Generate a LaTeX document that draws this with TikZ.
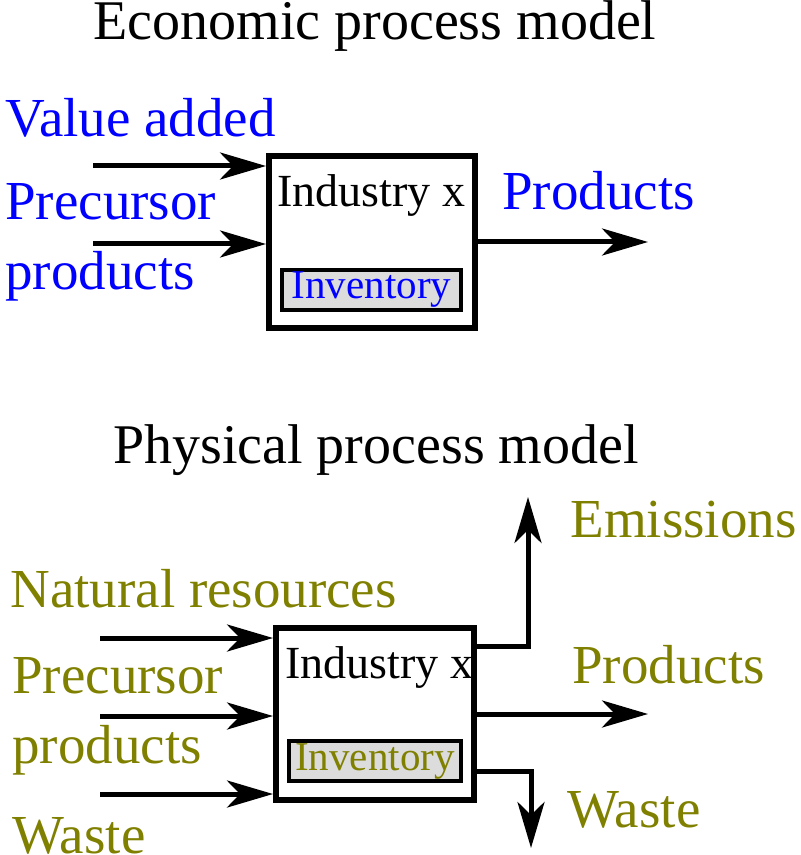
\documentclass[tikz,border=0pt]{standalone}
\usepackage{fontspec}
\setmainfont{Liberation Serif}
\usetikzlibrary{arrows.meta}
\definecolor{econ}{RGB}{0,0,255}
\definecolor{phys}{RGB}{128,128,0}
\definecolor{stock}{RGB}{220,220,220}
\tikzset{
  flow/.style={line width=2.5pt,-{Stealth[length=23pt,width=13.5pt,inset=6.5pt]}},
  procbox/.style={draw,line width=3pt,minimum width=103pt,minimum height=86pt,inner sep=0pt},
  invbox/.style={draw,line width=2pt,fill=stock,minimum height=20pt,inner sep=0pt,font=\fontsize{20.5}{24}\selectfont},
  lbl/.style={anchor=base west,inner sep=0pt,font=\fontsize{27.5}{33}\selectfont},
  ttl/.style={anchor=base,inner sep=0pt,font=\fontsize{28}{33}\selectfont},
  ind/.style={anchor=base west,inner sep=0pt,font=\fontsize{23}{27}\selectfont}
}
\begin{document}
\begin{tikzpicture}[x=0.5pt,y=-0.5pt]
\useasboundingbox (0,0) rectangle (800,855);
% economic model
\node[ttl] (t1) at (375,40) {Economic process model};
\node[procbox] (box1) at (372,242) {};
\node[ind] (ind1) at (277,207) {Industry x};
\node[invbox,minimum width=89.5pt,text=econ] (inv1) at (371.5,290) {Inventory};
\node[lbl,text=econ] (va) at (5,137) {Value added};
\node[lbl,text=econ] (pp1) at (5,220) {Precursor};
\node[lbl,text=econ] (pp2) at (5,290) {products};
\node[lbl,text=econ] (pr1) at (502,210) {Products};
\coordinate (a1) at (93,166);
\coordinate (a2) at (93,244);
\coordinate (o1) at (648,242);
  \draw[flow] (a1) -- (a1 -| box1.west);
  \draw[flow] (a2) -- (a2 -| box1.west);
  \draw[flow] (box1.east) -- (o1);
% physical model
\node[ttl] (t2) at (376,463) {Physical process model};
\node[procbox,minimum width=99pt] (box2) at (375,714) {};
\node[ind] (ind2) at (285,678) {Industry x};
\node[invbox,minimum width=86pt,text=phys] (inv2) at (375,761) {Inventory};
\node[lbl,text=phys] (nr) at (10,607) {Natural resources};
\node[lbl,text=phys] (pp3) at (12,693) {Precursor};
\node[lbl,text=phys] (pp4) at (12,763) {products};
\node[lbl,text=phys] (ws1) at (12,853) {Waste};
\node[lbl,text=phys] (em) at (570,537) {Emissions};
\node[lbl,text=phys] (pr2) at (572,683) {Products};
\node[lbl,text=phys] (ws2) at (567,827) {Waste};
\coordinate (b1) at (100,638);
\coordinate (b2) at (100,716);
\coordinate (b3) at (100,794);
\coordinate (o2) at (528,497);
\coordinate (o3) at (648,714);
\coordinate (o4) at (531,848);
  \draw[flow] (b1) -- (b1 -| box2.west);
  \draw[flow] (b2) -- (b2 -| box2.west);
  \draw[flow] (b3) -- (b3 -| box2.west);
  \draw[flow] ([yshift=-10.5pt]box2.north east) -| (o2);
  \draw[flow] (box2.east) -- (o3);
  \draw[flow] ([yshift=16pt]box2.south east) -| (o4);
\end{tikzpicture}
\end{document}
